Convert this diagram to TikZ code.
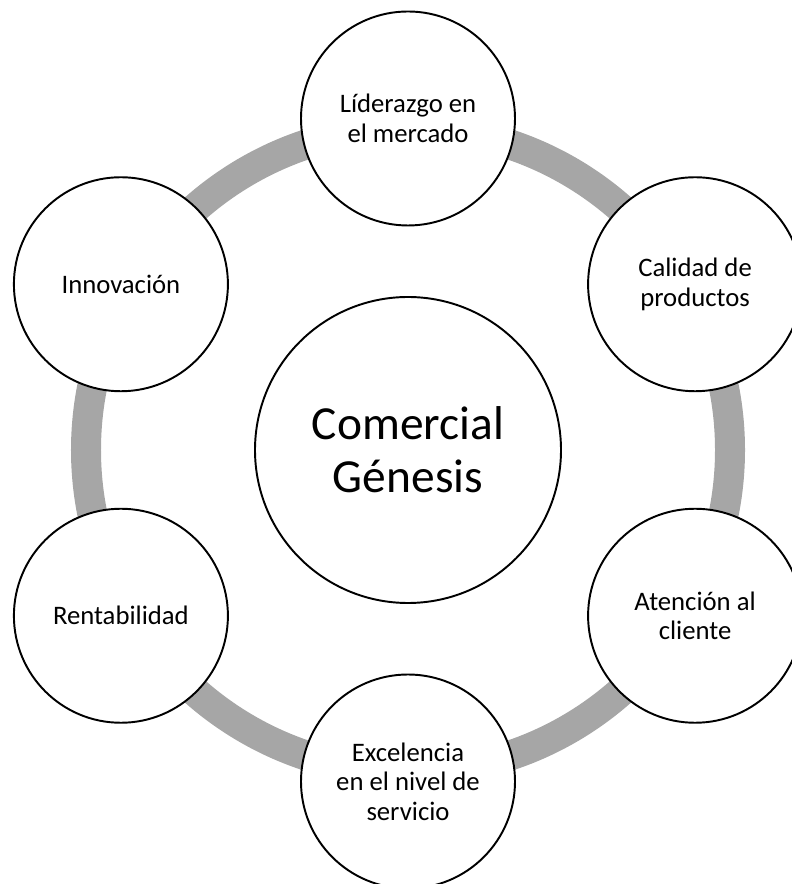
\documentclass[tikz,border=0pt]{standalone}
\usepackage{fontspec}
\setmainfont{Carlito}
\usepackage{xcolor}
\usepackage{tikz}
\usetikzlibrary{positioning}
\definecolor{ringgray}{RGB}{166, 166, 166}

\begin{document}
\begin{tikzpicture}[
    hubnode/.style={circle, draw=black, line width=1.1pt, fill=white, minimum size=6.12cm, inner sep=0pt, align=center, font=\fontsize{27}{30}\selectfont},
    satnode/.style={circle, draw=black, line width=1.1pt, fill=white, minimum size=4.28cm, inner sep=0pt, align=center, font=\fontsize{15.2}{16.8}\selectfont},
    ring/.style={draw=ringgray, line width=0.6cm}
]
\useasboundingbox (-8.16,-8.68) rectangle (7.66,9.0);

% Gray ring behind everything
\coordinate (mid) at (0,0);
\draw[ring] (mid) circle (6.44cm);

% Centre
\node[hubnode] (hub) at (mid) {Comercial\\Génesis};

% Outer circles around the ring
\node[satnode] (lider)  at (90:6.63)   {Líderazgo en\\el mercado};
\node[satnode] (calid)  at (30:6.63)   {Calidad de\\productos};
\node[satnode] (atenc)  at (-30:6.63)  {Atención al\\cliente};
\node[satnode] (excel)  at (-90:6.63)  {Excelencia\\en el nivel de\\servicio};
\node[satnode] (renta)  at (-150:6.63) {Rentabilidad};
\node[satnode] (innov)  at (150:6.63)  {Innovación};

\end{tikzpicture}
\end{document}
